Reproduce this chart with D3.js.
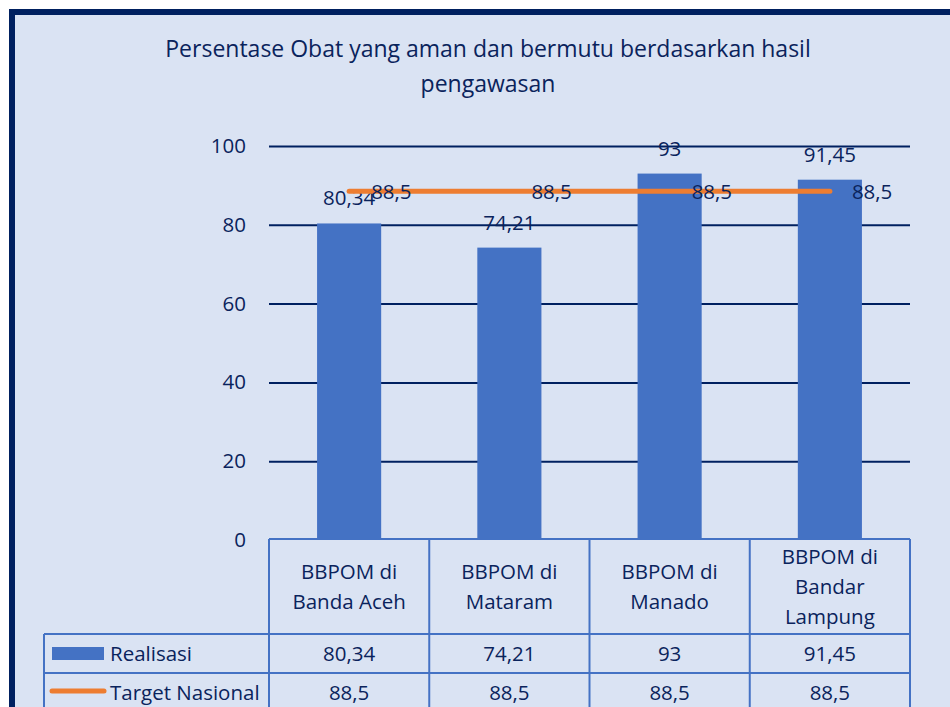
<!DOCTYPE html>
<html>
<head>
<meta charset="utf-8">
<script src="https://cdn.jsdelivr.net/npm/d3@7"></script>
<style>
  body { margin: 0; background: #ffffff; }
  svg { display: block; font-family: "Open Sans", "Noto Sans", sans-serif; }
</style>
</head>
<body>
<svg id="chart" width="950" height="707"></svg>
<script>
// data
var categories = ["BBPOM di Banda Aceh", "BBPOM di Mataram", "BBPOM di Manado", "BBPOM di Bandar Lampung"];
var categoryLines = [["BBPOM di", "Banda Aceh"], ["BBPOM di", "Mataram"], ["BBPOM di", "Manado"], ["BBPOM di", "Bandar", "Lampung"]];
var realisasi = [80.34, 74.21, 93, 91.45];
var target = [88.5, 88.5, 88.5, 88.5];
var yTicks = [0, 20, 40, 60, 80, 100];
var seriesNames = ["Realisasi", "Target Nasional"];
var title = ["Persentase Obat yang aman dan bermutu berdasarkan hasil", "pengawasan"];

var textColor = "#0a235c";
var barColor = "#4472c4";
var lineColor = "#ed7d31";
var fs = "20.5px";
var fmt = function (v) { return String(v).replace(".", ","); };

var svg = d3.select("#chart");

// panel + dark frame
svg.append("rect").attr("x", 12).attr("y", 12).attr("width", 960).attr("height", 720)
  .attr("fill", "#dae3f3").attr("stroke", "#002060").attr("stroke-width", 6);

// title
svg.append("text")
  .attr("x", 488).attr("y", 57)
  .attr("text-anchor", "middle")
  .attr("fill", textColor)
  .style("font-size", "23px")
  .selectAll("tspan").data(title).enter().append("tspan")
  .attr("x", 488).attr("dy", function (d, i) { return i ? 35 : 0; })
  .text(function (d) { return d; });

var x = d3.scaleBand().domain(categories).range([269, 910]);
var y = d3.scaleLinear().domain([0, 100]).range([540, 146]);

// gridlines + y labels
var yAxis = svg.append("g")
  .attr("transform", "translate(269,0)")
  .call(d3.axisLeft(y).tickValues(yTicks).tickSize(-(910 - 269)).tickPadding(23));
yAxis.select(".domain").remove();
yAxis.selectAll("line").attr("stroke", "#002060").attr("stroke-width", 2)
  .attr("display", function (d) { return d === 0 ? "none" : null; });
yAxis.selectAll("text").attr("fill", textColor).style("font-size", fs)
  .style("font-family", "\"Open Sans\", sans-serif");

// bars
var barW = x.bandwidth() * 0.4;
svg.append("g").selectAll("rect").data(realisasi).enter().append("rect")
  .attr("x", function (d, i) { return x(categories[i]) + (x.bandwidth() - barW) / 2; })
  .attr("y", function (d) { return y(d); })
  .attr("width", barW)
  .attr("height", function (d) { return y(0) - y(d); })
  .attr("fill", barColor);

// bar labels
svg.append("g").selectAll("text").data(realisasi).enter().append("text")
  .attr("x", function (d, i) { return x(categories[i]) + x.bandwidth() / 2; })
  .attr("y", function (d) { return y(d) - 18; })
  .attr("text-anchor", "middle")
  .attr("fill", textColor)
  .style("font-size", fs)
  .text(fmt);

// target line
var line = d3.line()
  .x(function (d, i) { return x(categories[i]) + x.bandwidth() / 2; })
  .y(function (d) { return y(d); });
svg.append("path").datum(target)
  .attr("d", line)
  .attr("fill", "none")
  .attr("stroke", lineColor)
  .attr("stroke-width", 5)
  .attr("stroke-linecap", "round");

svg.append("g").selectAll("text").data(target).enter().append("text")
  .attr("x", function (d, i) { return x(categories[i]) + x.bandwidth() / 2 + 22; })
  .attr("y", function (d) { return y(d) + 8; })
  .attr("fill", textColor)
  .style("font-size", fs)
  .text(fmt);

// data table
var tableColor = "#4472c4";
var rowTop = 539, headBottom = 634, row2Bottom = 673, row3Bottom = 712;
var tbl = svg.append("g").attr("stroke", tableColor).attr("stroke-width", 2);
tbl.append("line").attr("x1", 269).attr("x2", 910).attr("y1", rowTop).attr("y2", rowTop);
[headBottom, row2Bottom, row3Bottom].forEach(function (yy) {
  tbl.append("line").attr("x1", 44).attr("x2", 910).attr("y1", yy).attr("y2", yy);
});
tbl.append("line").attr("x1", 44).attr("x2", 44).attr("y1", headBottom).attr("y2", row3Bottom);
categories.forEach(function (c) {
  tbl.append("line").attr("x1", x(c)).attr("x2", x(c)).attr("y1", rowTop).attr("y2", row3Bottom);
});
tbl.append("line").attr("x1", 910).attr("x2", 910).attr("y1", rowTop).attr("y2", row3Bottom);

// category headers
categoryLines.forEach(function (lines, i) {
  var cx = x(categories[i]) + x.bandwidth() / 2;
  var midY = (rowTop + headBottom) / 2;
  var t = svg.append("text").attr("text-anchor", "middle").attr("fill", textColor).style("font-size", fs);
  t.selectAll("tspan").data(lines).enter().append("tspan")
    .attr("x", cx)
    .attr("y", function (d, j) { return midY + 7 + (j - (lines.length - 1) / 2) * 30; })
    .text(function (d) { return d; });
});

// value rows
[realisasi, target].forEach(function (vals, r) {
  var cy = r === 0 ? (headBottom + row2Bottom) / 2 : (row2Bottom + row3Bottom) / 2;
  svg.append("g").selectAll("text").data(vals).enter().append("text")
    .attr("x", function (d, i) { return x(categories[i]) + x.bandwidth() / 2; })
    .attr("y", cy + 7)
    .attr("text-anchor", "middle")
    .attr("fill", textColor)
    .style("font-size", fs)
    .text(fmt);
});

// legend keys in the table
svg.append("rect").attr("x", 52).attr("y", 647).attr("width", 52).attr("height", 13).attr("fill", barColor);
svg.append("line").attr("x1", 52).attr("x2", 104).attr("y1", 691).attr("y2", 691)
  .attr("stroke", lineColor).attr("stroke-width", 5).attr("stroke-linecap", "round");
seriesNames.forEach(function (s, i) {
  svg.append("text").attr("x", 110).attr("y", (i === 0 ? (headBottom + row2Bottom) / 2 : (row2Bottom + row3Bottom) / 2) + 7)
    .attr("fill", textColor).style("font-size", fs).text(s);
});
</script>
</body>
</html>
